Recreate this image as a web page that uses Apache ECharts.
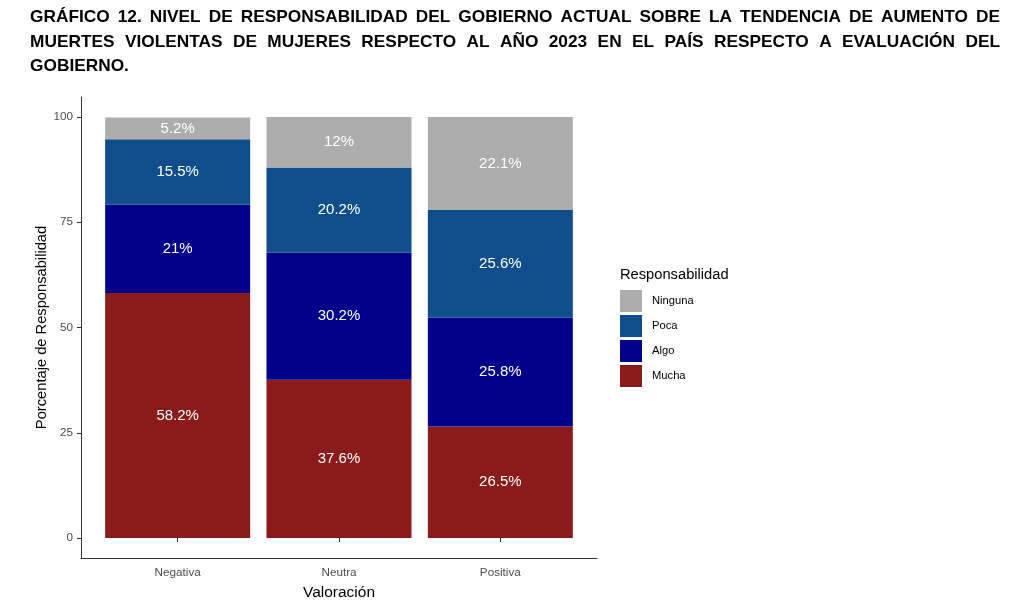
<!DOCTYPE html>
<html>
<head>
<meta charset="utf-8">
<script src="https://cdn.jsdelivr.net/npm/echarts@6/dist/echarts.min.js"></script>
<style>html,body{margin:0;padding:0;background:#fff}#c{width:1024px;height:609px}</style>
</head>
<body>
<div id="c"></div>
<script>
const titleLines = [
  "GRÁFICO 12. NIVEL DE RESPONSABILIDAD DEL GOBIERNO ACTUAL SOBRE LA TENDENCIA DE AUMENTO DE",
  "MUERTES VIOLENTAS DE MUJERES RESPECTO AL AÑO 2023 EN EL PAÍS RESPECTO A EVALUACIÓN DEL",
  "GOBIERNO."
];
const categories = ["Negativa", "Neutra", "Positiva"];
const mucha = [58.2, 37.6, 26.5];
const algo = [21, 30.2, 25.8];
const poca = [15.5, 20.2, 25.6];
const ninguna = [5.2, 12, 22.1];
const legendOrder = ["Ninguna", "Poca", "Algo", "Mucha"];
const yTicks = [0, 25, 50, 75, 100];

const FONT = "'Liberation Sans', Arial, sans-serif";

// justified, horizontally condensed title built from words
const ctx = document.createElement('canvas').getContext('2d');
const tFont = "bold 17px " + FONT;
ctx.font = tFont;
const tLeft = 30, tRight = 1000, tMid = [17, 42, 66], idealGap = 8;
const w0 = titleLines[0].split(' ');
const wsum0 = w0.reduce((a, w) => a + ctx.measureText(w).width, 0);
const sx = (tRight - tLeft - idealGap * (w0.length - 1)) / wsum0;
const titleGraphics = [];
titleLines.forEach((line, i) => {
  const words = line.split(' ');
  const widths = words.map(w => ctx.measureText(w).width * sx);
  const total = widths.reduce((a, b) => a + b, 0);
  const justify = i < titleLines.length - 1 && words.length > 1;
  const gap = justify ? (tRight - tLeft - total) / (words.length - 1) : idealGap;
  let x = tLeft;
  words.forEach((w, j) => {
    titleGraphics.push({
      type: 'text', x: x, y: tMid[i], scaleX: sx,
      style: { text: w, font: tFont, fill: '#000', textVerticalAlign: 'middle', textAlign: 'left' }
    });
    x += widths[j] + gap;
  });
});
titleGraphics.push({
  type: 'text', left: 620, top: 267,
  style: { text: 'Responsabilidad', font: "14.7px " + FONT, fill: '#000' }
});

function mk(name, data, color) {
  return {
    name, type: 'bar', stack: 'total', data, xAxisIndex: 1, yAxisIndex: 1,
    barWidth: 145,
    itemStyle: { color },
    label: { show: true, position: 'inside', color: '#fff', fontSize: 15, fontFamily: FONT,
      formatter: p => p.value + '%' },
    emphasis: { disabled: true }
  };
}

const chart = echarts.init(document.getElementById('c'), null, { renderer: 'canvas' });
chart.setOption({
  animation: false,
  backgroundColor: '#fff',
  graphic: titleGraphics,
  grid: [
    { left: 81, top: 97, right: 427, bottom: 51 },
    { left: 97, top: 117, right: 443, bottom: 71 }
  ],
  xAxis: [
    { gridIndex: 0, type: 'value', min: 0, max: 1, axisLine: { show: true, lineStyle: { color: '#333', width: 1 } },
      axisTick: { show: false }, axisLabel: { show: false }, splitLine: { show: false } },
    { gridIndex: 1, type: 'category', data: categories, offset: 20,
      axisLine: { show: false }, axisTick: { show: true, length: 4, alignWithLabel: true, lineStyle: { color: '#333' } },
      axisLabel: { color: '#4D4D4D', fontSize: 11.7, fontFamily: FONT, margin: 9 },
      name: 'Valoración', nameLocation: 'middle', nameGap: 27,
      nameTextStyle: { color: '#000', fontSize: 15.5, fontFamily: FONT } }
  ],
  yAxis: [
    { gridIndex: 0, type: 'value', min: 0, max: 1, axisLine: { show: true, lineStyle: { color: '#333', width: 1 } },
      axisTick: { show: false }, axisLabel: { show: false }, splitLine: { show: false } },
    { gridIndex: 1, type: 'value', min: yTicks[0], max: yTicks[yTicks.length - 1], interval: 25, offset: 16,
      axisLine: { show: false }, axisTick: { show: true, length: 4, lineStyle: { color: '#333' } },
      axisLabel: { color: '#4D4D4D', fontSize: 11.7, fontFamily: FONT, margin: 8 },
      splitLine: { show: false },
      name: 'Porcentaje de Responsabilidad', nameLocation: 'middle', nameGap: 31,
      nameTextStyle: { color: '#000', fontSize: 14.7, fontFamily: FONT } }
  ],
  legend: {
    data: legendOrder, orient: 'vertical', left: 620, top: 290, padding: 0,
    itemWidth: 22, itemHeight: 22, itemGap: 3, icon: 'rect',
    textStyle: { color: '#000', fontSize: 11.2, fontFamily: FONT, padding: [0, 0, 0, 5] },
    selectedMode: false
  },
  series: [
    mk('Mucha', mucha, '#8B1A1A'),
    mk('Algo', algo, '#00008B'),
    mk('Poca', poca, '#104E8B'),
    mk('Ninguna', ninguna, '#ADADAD')
  ]
});
</script>
</body>
</html>
